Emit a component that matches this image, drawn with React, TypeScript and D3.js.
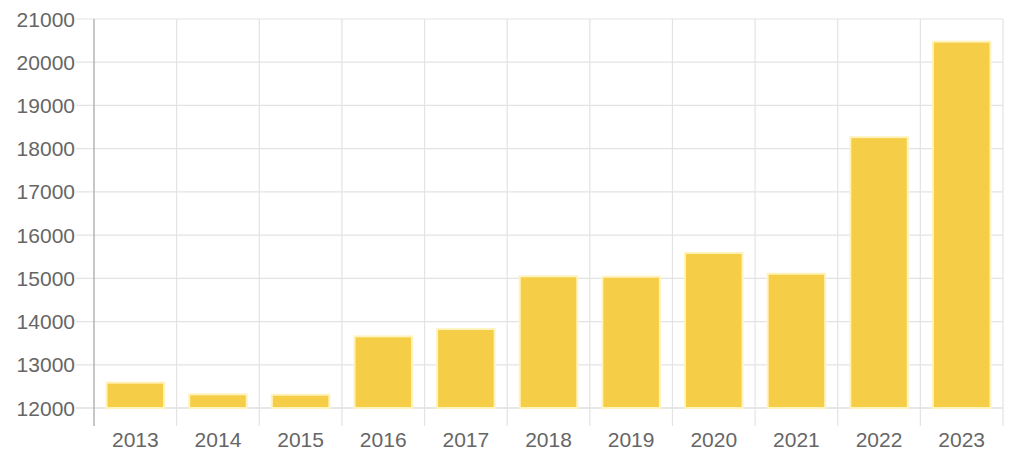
import React from "react";
import * as d3 from "d3";

const years = ["2013","2014","2015","2016","2017","2018","2019","2020","2021","2022","2023"];
const values = [12610, 12340, 12330, 13680, 13850, 15070, 15060, 15610, 15130, 18290, 20500];
const yTicks = [12000,13000,14000,15000,16000,17000,18000,19000,20000,21000];

export default function App() {
  const W = 1024, H = 475;
  const left = 94, right = 1003, top = 19, bottom = 408;
  const x = d3.scaleBand<string>().domain(years).range([left, right]).paddingInner(0).paddingOuter(0);
  const y = d3.scaleLinear().domain([12000, 21000]).range([bottom, top]);
  const bw = x.bandwidth() * 0.72;
  const font = "'Liberation Sans', Arial, Helvetica, sans-serif";
  return (
    <svg width={W} height={H} style={{ position: "absolute", left: 0, top: 0 }} fontFamily={font}>
      <rect width={W} height={H} fill="#fff" />
      {yTicks.map((t) => (
        <g key={t}>
          <line x1={76} x2={right} y1={y(t)} y2={y(t)} stroke={t === 12000 ? "#cfcfcf" : "#e3e3e3"} strokeWidth={1.2} />
          <text x={75} y={y(t)} dy="0.36em" textAnchor="end" fontSize={21} fill="#666">{t}</text>
        </g>
      ))}
      {years.map((yr, i) => (
        <line key={yr} x1={x(yr)!} x2={x(yr)!} y1={top} y2={426} stroke={i === 0 ? "#b5b5b5" : "#e3e3e3"} strokeWidth={i === 0 ? 1.5 : 1.2} />
      ))}
      <line x1={right} x2={right} y1={top} y2={426} stroke="#e3e3e3" strokeWidth={1.2} />
      {years.map((yr, i) => {
        const cx = x(yr)! + x.bandwidth() / 2;
        const yt = y(values[i]);
        return (
          <rect key={yr} x={cx - bw / 2 + 1} y={yt + 1} width={bw - 2} height={bottom - yt - 1}
            fill="#f6cd47" stroke="#fff3bd" strokeWidth={2} />
        );
      })}
      {years.map((yr) => (
        <text key={yr} x={x(yr)! + x.bandwidth() / 2} y={439} dy="0.36em" textAnchor="middle" fontSize={21} fill="#666">{yr}</text>
      ))}
    </svg>
  );
}
